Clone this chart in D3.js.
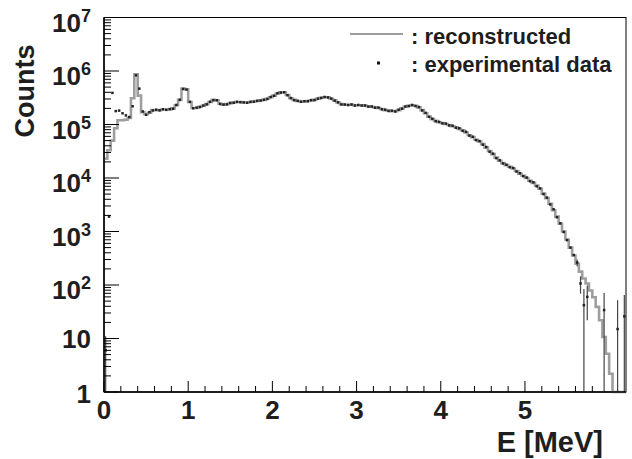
<!DOCTYPE html>
<html><head><meta charset="utf-8">
<script src="https://cdn.jsdelivr.net/npm/d3@7"></script>
<style>
body{margin:0;background:#fff}
svg{display:block}
text{font-family:"Liberation Sans",Arial,Helvetica,sans-serif;font-weight:bold;fill:#1e1e1e}
</style>
</head><body>
<svg id="c" width="632" height="459"></svg>
<script>
// ---- data (bins of 0.04 MeV from 0 to 6.2 MeV) ----
const energyMin = 0, energyMax = 6.2, binWidth = 0.04;
const histCounts = [
23000,33000,50000,85000,120000,120000,123000,132000,309000,871000,
347000,170000,155000,166000,186000,186000,186000,191000,191000,191000,
200000,229000,288000,468000,457000,263000,204000,204000,214000,224000,
240000,263000,288000,282000,245000,234000,240000,251000,257000,263000,
263000,257000,257000,263000,269000,275000,282000,288000,302000,324000,
347000,380000,398000,398000,355000,309000,288000,275000,269000,269000,
275000,282000,288000,302000,316000,324000,324000,302000,282000,257000,
240000,234000,234000,234000,229000,229000,229000,224000,219000,214000,
209000,204000,195000,186000,182000,178000,178000,186000,200000,214000,
224000,229000,224000,209000,186000,162000,141000,126000,117000,110000,
107000,102000,98000,93000,89000,83000,78000,71000,63000,58000,
52000,48000,43000,37000,32000,28000,24000,21000,19000,17400,
16200,15100,13500,12000,11000,10000,8900,8100,7200,6300,
5100,4200,3300,2500,1900,1400,1000,710,500,355,
250,178,132,107,79,59,39,22,10.7,5.2,
2.2,0,0,0,0];
const dataCounts = [
6,1900,390000,178000,182000,162000,148000,138000,219000,830000,
468000,175000,152000,170000,183000,189000,184000,193000,188000,194000,
197000,232000,290000,462000,450000,265000,201000,207000,212000,226000,
238000,266000,285000,284000,242000,236000,238000,253000,255000,265000,
261000,259000,255000,265000,267000,277000,280000,290000,300000,327000,
344000,383000,395000,401000,352000,312000,285000,277000,266000,272000,
272000,285000,286000,305000,313000,327000,321000,305000,279000,260000,
237000,236000,231000,237000,226000,232000,226000,227000,216000,217000,
206000,207000,192000,189000,179000,181000,175000,189000,197000,217000,
221000,232000,221000,212000,183000,165000,139000,128000,115000,112000,
105000,104000,96000,95000,87000,85000,76000,73000,62000,59000,
51000,49000,42000,38000,31000,28500,23500,21400,18700,17700,
15900,15400,13200,12300,10800,10200,8700,8300,7000,6400,
5000,4300,3200,2600,1850,1420,980,690,500,363,
263,107,42,60,0,0,0,0,34,0,
0,0,15,0,26];
const errorBins   = [0, 140, 141, 142, 143, 148, 152, 154];
const errorValues = [5, 38, 38, 42, 38, 37, 37, 39];
const xMajorTicks = [0, 1, 2, 3, 4, 5];
const xTickLabels = ["0", "1", "2", "3", "4", "5"];
const yDecadeExponents = [0, 1, 2, 3, 4, 5, 6, 7];
const legendLabels = [": reconstructed", ": experimental data"];
const xTitle = "E [MeV]", yTitle = "Counts";

// ---- drawing ----
const svg = d3.select("#c");
const L = 104, R = 626, T = 17.5, B = 392;
const x = d3.scaleLinear().domain([energyMin, energyMax]).range([L, R]);
const y = d3.scaleLog().domain([1, 1e7]).range([B, T]);
const yv = v => v > 0 ? y(Math.max(v, 1)) : y(1);

// frame
svg.append("rect").attr("x", L).attr("y", T).attr("width", R - L).attr("height", B - T)
  .attr("fill", "none").attr("stroke", "#000").attr("stroke-width", 1);

// histogram
const nb = histCounts.length;
const pts = histCounts.map((v, i) => [energyMin + i * binWidth, v]);
pts.push([energyMin + nb * binWidth, histCounts[nb - 1]]);
svg.append("path").datum(pts)
  .attr("d", d3.line().x(d => x(d[0])).y(d => yv(d[1])).curve(d3.curveStepAfter))
  .attr("fill", "none").attr("stroke", "#9e9e9e").attr("stroke-width", 2.6);

// error bars
errorBins.forEach((b, k) => {
  const v = dataCounts[b], e = errorValues[k];
  if (v <= 0) return;
  const cx = x(energyMin + (b + 0.5) * binWidth);
  svg.append("line").attr("x1", cx).attr("x2", cx)
    .attr("y1", yv(v + e)).attr("y2", v - e > 1 ? y(v - e) : y(1))
    .attr("stroke", "#444").attr("stroke-width", 1.2);
});

// data points
svg.append("g").selectAll("rect").data(dataCounts.map((v, i) => [i, v]).filter(d => d[1] > 0))
  .join("rect")
  .attr("x", d => x(energyMin + (d[0] + 0.5) * binWidth) - 1.25)
  .attr("y", d => y(d[1]) - 1.25)
  .attr("width", 2.5).attr("height", 2.5).attr("fill", "#222");

// axes lines
const ax = svg.append("g").attr("stroke", "#000");
ax.append("line").attr("x1", L).attr("x2", L).attr("y1", T).attr("y2", B).attr("stroke-width", 1.5);
ax.append("line").attr("x1", L).attr("x2", R).attr("y1", B).attr("y2", B).attr("stroke-width", 1.5);

// x ticks
const xMinor = d3.range(0.2, 6.01, 0.2).filter(t => Math.abs(t - Math.round(t)) > 1e-6);
xMajorTicks.forEach(t => ax.append("line").attr("x1", x(t)).attr("x2", x(t)).attr("y1", B).attr("y2", B - 11).attr("stroke-width", 1));
xMinor.forEach(t => ax.append("line").attr("x1", x(t)).attr("x2", x(t)).attr("y1", B).attr("y2", B - 6).attr("stroke-width", 1));
svg.append("g").selectAll("text").data(xMajorTicks).join("text")
  .attr("x", d => x(d)).attr("y", 419).attr("text-anchor", "middle")
  .attr("font-size", 26).text((d, i) => xTickLabels[i]);

// y ticks
yDecadeExponents.forEach(k => {
  const v = Math.pow(10, k);
  ax.append("line").attr("x1", L).attr("x2", L + 15).attr("y1", y(v)).attr("y2", y(v)).attr("stroke-width", 1);
  if (k < 7) for (let m = 2; m <= 9; m++) {
    const yy = y(m * v);
    ax.append("line").attr("x1", L).attr("x2", L + 7).attr("y1", yy).attr("y2", yy).attr("stroke-width", 1);
  }
  const t = svg.append("text").attr("x", 91).attr("text-anchor", "end").attr("font-size", 26);
  if (k === 0) t.attr("y", y(v) + 11).text("1");
  else if (k === 1) t.attr("y", y(v) + 9).text("10");
  else {
    t.attr("y", y(v) + 14);
    t.append("tspan").text("10");
    t.append("tspan").attr("font-size", 18).attr("dy", -10).text(k);
  }
});

// titles
svg.append("text").attr("x", 603).attr("y", 452).attr("text-anchor", "end").attr("font-size", 29).text(xTitle);
svg.append("text").attr("transform", "translate(34,91) rotate(-90)").attr("text-anchor", "middle")
  .attr("font-size", 27).text(yTitle);

// legend
svg.append("line").attr("x1", 350).attr("x2", 403).attr("y1", 34).attr("y2", 34)
  .attr("stroke", "#9e9e9e").attr("stroke-width", 2);
svg.append("rect").attr("x", 377).attr("y", 61.5).attr("width", 3).attr("height", 3).attr("fill", "#111");
svg.append("text").attr("x", 411).attr("y", 44).attr("font-size", 22).text(legendLabels[0]);
svg.append("text").attr("x", 411).attr("y", 72).attr("font-size", 22).text(legendLabels[1]);
</script>
</body></html>
